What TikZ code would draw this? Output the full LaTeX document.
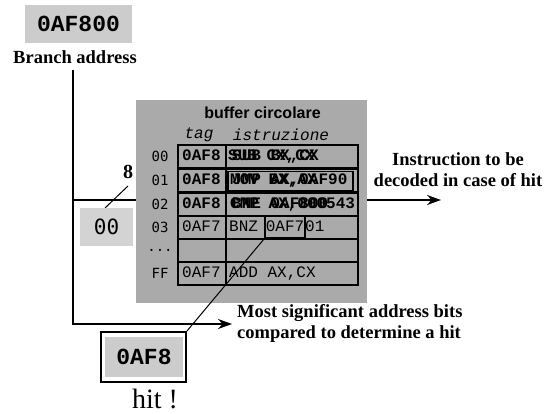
\documentclass[tikz,border=0pt]{standalone}
\usepackage{fontspec}
\setmainfont{Liberation Serif}
\setsansfont{Liberation Sans}
\setmonofont{Liberation Mono}
\newfontfamily\dvmono{DejaVu Sans Mono}
\usetikzlibrary{arrows.meta}
\definecolor{bufgrey}{HTML}{AAAAAA}
\definecolor{keygrey}{HTML}{CCCCCC}
\definecolor{litegrey}{HTML}{D3D3D3}
\tikzset{
 conn/.style={line width=1.8pt},
 arr/.style={conn,-{Stealth[length=14pt,width=10pt]}},
 lbl/.style={inner sep=0pt, font=\bfseries\fontsize{18.5}{21}\selectfont, align=center},
 bigmono/.style={inner sep=0pt, font=\ttfamily\bfseries\fontsize{23}{26}\selectfont},
 cell/.style={draw, line width=1.8pt, inner sep=0pt, minimum height=22.5pt},
 celltxt/.style={inner sep=0pt, anchor=west, text height=10pt, text depth=2pt, font=\ttfamily\fontsize{16}{18}\selectfont},
 celltxtb/.style={celltxt, font=\ttfamily\bfseries\fontsize{16}{18}\selectfont},
 rowlbl/.style={inner sep=0pt, font=\dvmono\fontsize{14}{16}\selectfont},
}
\begin{document}
\begin{tikzpicture}[x=1pt,y=-1pt]
\useasboundingbox (0,0) rectangle (548,414);
% address
\node[bigmono, fill=keygrey, minimum width=107pt, minimum height=38pt] (addr) at (78.5,24) {0AF800};
\node[lbl] (br) at (75,57) {Branch address};
\coordinate (vtop) at (73,70);
\coordinate (vbot) at (73,324);
\coordinate (split) at (73,200);
\coordinate (msbtip) at (232,324);
\coordinate (insttip) at (441,200);
\draw[arr] (vtop) -- (vbot) -- (msbtip);
\draw[arr] (split) -- (insttip);
% 8 slash and index
\coordinate (sl1) at (105,208);
\coordinate (sl2) at (128,186);
\draw[line width=1pt] (sl1) -- (sl2);
\node[lbl, font=\bfseries\fontsize{20}{22}\selectfont] (eight) at (128,172) {8};
\node[inner sep=0pt, fill=litegrey, minimum width=53pt, minimum height=38pt, font=\dvmono\fontsize{21}{24}\selectfont] (idx) at (106.5,227) {00};
% buffer
\node[fill=bufgrey, minimum width=231pt, minimum height=203pt, inner sep=0pt] (buf) at (251.5,201.5) {};
\node[inner sep=0pt, font=\sffamily\bfseries\fontsize{16}{18}\selectfont] (title) at (262.5,113) {buffer circolare};
\node[inner sep=0pt, font=\ttfamily\itshape\fontsize{16}{18}\selectfont] (tagh) at (199,135) {tag};
\node[inner sep=0pt, font=\ttfamily\itshape\fontsize{16}{18}\selectfont] (insh) at (281,135) {istruzione};
% rows
\foreach \n/\y/\l in {0/156.5/00, 1/180.5/01, 2/204.5/02, 3/227.5/03, 4/250.5/{...}, 5/273.5/FF}{
  \node[cell, minimum width=48pt] (t\n) at (202,\y) {};
  \node[cell, minimum width=132pt] (i\n) at (292,\y) {};
  \node[rowlbl] (r\n) at (160,\y) {\l};
}
% row 00
\node[celltxtb] (t0a) at (182,156.5) {0AF8};
\node[celltxtb] (i0a) at (232,156.5) {SUB BX,CX};
\node[celltxtb] (i0b) at (228,156.5) {SUB CX,CX};
% row 01
\node[celltxtb] (t1a) at (182,180.5) {0AF8};
\node[draw, line width=1.6pt, minimum width=125pt, minimum height=19pt, inner sep=0pt] (j1) at (290.5,181) {};
\node[celltxtb] (i1a) at (230,180.5) {MOV BX,AX};
\node[celltxtb] (i1b) at (232,180.5) {JMP AX,0AF90};
% row 02
\node[celltxtb] (t2a) at (182,204.5) {0AF8};
\node[celltxtb] (i2a) at (230,204.5) {CMP AX,000543};
\node[celltxtb] (i2b) at (232,204.5) {BNE 0AF800};
% row 03
\node[celltxt] (t3a) at (182,227.5) {0AF7};
\node[celltxt] (bnz) at (229,227.5) {BNZ};
\node[draw, line width=1.6pt, minimum width=40pt, minimum height=22pt, inner sep=0pt, text height=10pt, text depth=2pt, font=\ttfamily\fontsize{16}{18}\selectfont] (tgt) at (285,227) {0AF7};
\node[celltxt] (lo) at (305,227.5) {01};
% row FF
\node[celltxt] (t5a) at (182,273.5) {0AF7};
\node[celltxt] (i5a) at (229,273.5) {ADD AX,CX};
% hit box
\node[draw, line width=1.8pt, minimum width=85pt, minimum height=50pt, inner sep=0pt] (hitbox) at (143.5,357) {};
\node[bigmono, fill=keygrey, minimum width=78pt, minimum height=40pt] (hitin) at (144,357) {0AF8};
\draw[line width=1pt] (tgt.south west) -- (hitbox.north east);
\node[inner sep=0pt, font=\fontsize{28}{30}\selectfont] (hit) at (155,399) {hit !};
% labels
\node[lbl, anchor=west, align=left] (msb) at (237,323) {Most significant address bits\\compared to determine a hit};
\node[lbl] (inst) at (458,170) {Instruction to be\\decoded in case of hit};
\end{tikzpicture}
\end{document}
